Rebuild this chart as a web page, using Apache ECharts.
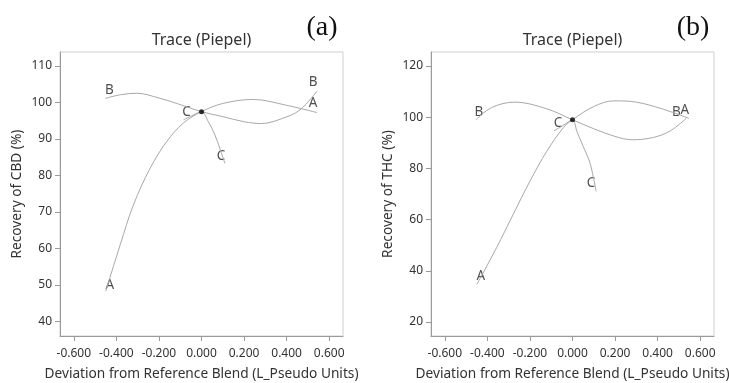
<!DOCTYPE html>
<html>
<head>
<meta charset="utf-8">
<script src="https://cdn.jsdelivr.net/npm/echarts@6/dist/echarts.min.js"></script>
<style>
  html, body { margin: 0; padding: 0; background: #fff; }
  #main { width: 729px; height: 383px; }
</style>
</head>
<body>
<div id="main"></div>
<script>
// (a) CBD trace curves
const cbdAx = [-0.45, -0.382, -0.320, -0.241, -0.163, -0.085, 0, 0.10, 0.243, 0.40, 0.543];
const cbdAy = [48.3, 61.0, 71.9, 82.0, 89.3, 94.35, 97.45, 99.7, 100.8, 99.2, 97.2];
const cbdBx = [-0.452, -0.38, -0.304, -0.20, -0.116, 0, 0.10, 0.20, 0.282, 0.38, 0.462, 0.543];
const cbdBy = [101.1, 102.1, 102.5, 101.2, 99.7, 97.45, 96.1, 94.7, 94.2, 95.6, 97.9, 103.1];
const cbdCx = [-0.085, -0.04, 0, 0.032, 0.063, 0.090, 0.110];
const cbdCy = [95.2, 96.5, 97.45, 94.7, 91.1, 86.7, 83.3];

// (b) THC trace curves
const thcAx = [-0.45, -0.357, -0.279, -0.20, -0.121, -0.043, 0, 0.10, 0.194, 0.30, 0.42, 0.547];
const thcAy = [34.6, 49.0, 62.0, 75.0, 86.7, 95.9, 99, 104.2, 106.4, 105.9, 103.3, 99.6];
const thcBx = [-0.454, -0.38, -0.271, -0.121, 0, 0.10, 0.20, 0.280, 0.38, 0.46, 0.535];
const thcBy = [99, 103.8, 105.9, 103.3, 99, 95.5, 92.5, 91.2, 92.1, 94.7, 99.6];
const thcCx = [-0.087, -0.04, 0, 0.021, 0.048, 0.082, 0.111];
const thcCy = [94.7, 97.0, 99, 94.4, 89.0, 82.2, 71.0];

const xTicks = [-0.6, -0.4, -0.2, 0, 0.2, 0.4, 0.6];
const cbdTicks = [40, 50, 60, 70, 80, 90, 100, 110];
const thcTicks = [20, 40, 60, 80, 100, 120];
const refCbd = 97.45;
const refThc = 99;

const FONT = '"Noto Sans", "Open Sans", sans-serif';
const curveColor = '#a8a8a8';

const zip = (xs, ys) => xs.map((x, i) => [x, ys[i]]);

function xAxisFor(idx) {
  return {
    type: 'value', gridIndex: idx, min: -0.665, max: 0.665,
    name: 'Deviation from Reference Blend (L_Pseudo Units)',
    nameLocation: 'middle', nameGap: 31,
    nameTextStyle: { fontFamily: FONT, fontSize: 13.7, color: '#333' },
    axisLine: { onZero: false, lineStyle: { color: '#9a9a9a' } },
    axisTick: { customValues: xTicks, length: 5, lineStyle: { color: '#9a9a9a' } },
    axisLabel: { customValues: xTicks, formatter: v => v.toFixed(3), fontFamily: FONT, fontSize: 12, color: '#333', margin: 12 },
    splitLine: { show: false }
  };
}

function yAxisFor(idx, min, max, ticks, name) {
  return {
    type: 'value', gridIndex: idx, min: min, max: max,
    name: name, nameLocation: 'middle', nameGap: 36,
    nameTextStyle: { fontFamily: FONT, fontSize: 13.7, color: '#333' },
    axisLine: { onZero: false, lineStyle: { color: '#9a9a9a' } },
    axisTick: { customValues: ticks, length: 5, lineStyle: { color: '#9a9a9a' } },
    axisLabel: { customValues: ticks, fontFamily: FONT, fontSize: 12, color: '#333', margin: 8 },
    splitLine: { show: false }
  };
}

function curve(idx, xs, ys) {
  return {
    type: 'line', xAxisIndex: idx, yAxisIndex: idx, data: zip(xs, ys),
    smooth: 0.35, symbol: 'none', silent: true,
    lineStyle: { color: curveColor, width: 1 }
  };
}

function labels(idx, items) {
  return {
    type: 'scatter', xAxisIndex: idx, yAxisIndex: idx, symbolSize: 1, silent: true,
    itemStyle: { color: 'rgba(0,0,0,0)' },
    data: items.map(it => ({
      value: it.p, name: it.t,
      label: { show: true, position: 'inside', offset: it.o, formatter: '{b}', fontFamily: FONT, fontSize: 13.5, color: '#222' }
    }))
  };
}

function refPoint(idx, y) {
  return {
    type: 'scatter', xAxisIndex: idx, yAxisIndex: idx, symbolSize: 5, silent: true,
    itemStyle: { color: '#000' }, data: [[0, y]], z: 5
  };
}

const first = (xs, ys) => [xs[0], ys[0]];
const last = (xs, ys) => [xs[xs.length - 1], ys[ys.length - 1]];

const chart = echarts.init(document.getElementById('main'));

const option = {
  backgroundColor: '#fff',
  animation: false,
  grid: [
    { left: 60, top: 52, width: 283, height: 284, show: true, borderColor: '#cfcfcf', borderWidth: 1, outerBoundsMode: 'none' },
    { left: 431, top: 52, width: 283, height: 284, show: true, borderColor: '#cfcfcf', borderWidth: 1, outerBoundsMode: 'none' }
  ],
  xAxis: [xAxisFor(0), xAxisFor(1)],
  yAxis: [
    yAxisFor(0, 36, 113.8, cbdTicks, 'Recovery of CBD (%)'),
    yAxisFor(1, 14.5, 125.5, thcTicks, 'Recovery of THC (%)')
  ],
  graphic: [
    { type: 'text', x: 201.5, y: 40, style: { text: 'Trace (Piepel)', font: '16px ' + FONT, fill: '#333', align: 'center', verticalAlign: 'middle' } },
    { type: 'text', x: 572.5, y: 40, style: { text: 'Trace (Piepel)', font: '16px ' + FONT, fill: '#333', align: 'center', verticalAlign: 'middle' } },
    { type: 'text', x: 322, y: 28, style: { text: '(a)', font: '28px "Liberation Serif", serif', fill: '#111', align: 'center', verticalAlign: 'middle' } },
    { type: 'text', x: 693, y: 28, style: { text: '(b)', font: '28px "Liberation Serif", serif', fill: '#111', align: 'center', verticalAlign: 'middle' } }
  ],
  series: [
    curve(0, cbdAx, cbdAy),
    curve(0, cbdBx, cbdBy),
    curve(0, cbdCx, cbdCy),
    refPoint(0, refCbd),
    labels(0, [
      { t: 'A', p: first(cbdAx, cbdAy), o: [4, -6] },
      { t: 'A', p: last(cbdAx, cbdAy), o: [-4, -9] },
      { t: 'B', p: first(cbdBx, cbdBy), o: [4, -8] },
      { t: 'B', p: last(cbdBx, cbdBy), o: [-4, -9] },
      { t: 'C', p: first(cbdCx, cbdCy), o: [3, -8] },
      { t: 'C', p: last(cbdCx, cbdCy), o: [-4, -7] }
    ]),
    curve(1, thcAx, thcAy),
    curve(1, thcBx, thcBy),
    curve(1, thcCx, thcCy),
    refPoint(1, refThc),
    labels(1, [
      { t: 'A', p: first(thcAx, thcAy), o: [4, -8] },
      { t: 'A', p: last(thcAx, thcAy), o: [-4, -8] },
      { t: 'B', p: first(thcBx, thcBy), o: [3, -8] },
      { t: 'B', p: last(thcBx, thcBy), o: [-10, -6] },
      { t: 'C', p: first(thcCx, thcCy), o: [4, -8] },
      { t: 'C', p: last(thcCx, thcCy), o: [-5, -8] }
    ])
  ]
};

chart.setOption(option);
</script>
</body>
</html>
